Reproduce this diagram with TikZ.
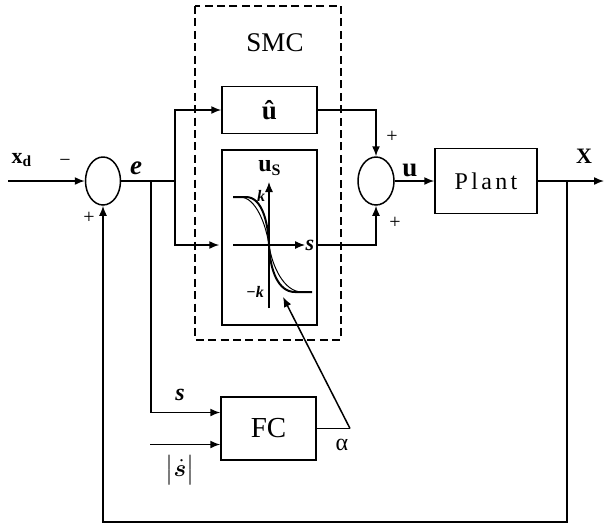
\documentclass[tikz,border=0pt]{standalone}
\usepackage{amsmath,bm}
\usepackage{fontspec}
\setmainfont{Liberation Serif}
\newfontfamily\plantfont[LetterSpace=14]{Liberation Serif}
\usetikzlibrary{arrows.meta,shapes.geometric}

\begin{document}
\begin{tikzpicture}[x=0.5pt, y=-0.5pt, line width=0.75pt,
        every node/.style={font=\fontsize{12}{14}\selectfont, inner sep=0pt},
        block/.style={rectangle, draw, line width=0.75pt},
        sumnode/.style={ellipse, draw, minimum width=17.5pt, minimum height=24pt},
        arrow/.style={-{Latex[length=5pt,width=4pt]}},
        smcframe/.style={draw, line width=1.3pt, dash pattern=on 4pt off 2.2pt},
        sign/.style={font=\fontsize{10}{12}\selectfont},
        sig/.style={font=\fontsize{11}{12}\selectfont\bfseries},
        varlabel/.style={font=\fontsize{13.5}{15}\selectfont\bfseries\itshape}
      ]
      \useasboundingbox (0,0) rectangle (605,526);
      % SMC frame
      \draw[smcframe] (195,6) rectangle (341,340);
      \node[font=\fontsize{13.5}{15}\selectfont] (smc) at (275,43) {SMC};
      % blocks
      \node[sumnode] (sum1) at (103,181) {};
      \node[sumnode, minimum width=18pt] (sum2) at (376,181) {};
      \node[block, minimum width=47.5pt, minimum height=23.5pt] (uhat) at (269.5,110)
      {\fontsize{13.5}{15}\selectfont\bfseries û};
      \node[block, minimum width=47.5pt, minimum height=87.5pt] (usbox) at (269.5,237.5) {};
      \node[block, minimum width=51pt, minimum height=32.5pt] (plant) at (486,181)
      {\fontsize{12}{14}\plantfont Plant};
      \node[block, minimum width=47.5pt, minimum height=31.5pt] (fc) at (268.5,428.5)
      {\fontsize{14.5}{16}\selectfont FC};
      % switching curve inside the us box
      \coordinate (ax0) at (269,245);
      \draw[arrow, line width=0.6pt] (233,245) -- (305,245);
      \draw[arrow, line width=0.6pt] (269,308) -- (269,182);
      \draw[line width=1pt] (233,197) -- (246,197)
      .. controls (262,197) and (268,222) .. (269,245)
      .. controls (270,270) and (278,292) .. (295,292) -- (312,292);
      \draw[line width=0.5pt] (233,197) -- (240,197)
      .. controls (256,197) and (266,225) .. (269,245)
      .. controls (272,266) and (284,292) .. (302,292);
      \node[font=\fontsize{12}{14}\selectfont\bfseries] (uslabel) at (270,168) {u\textsubscript{S}};
      \node[font=\fontsize{8}{9}\selectfont\bfseries\itshape] (kpos) at (261,196) {k};
      \node[font=\fontsize{8}{9}\selectfont\bfseries\itshape] (kneg) at (255,292) {−k};
      \node[font=\fontsize{11}{12}\selectfont\bfseries\itshape] (slabel) at (310,245) {s};
      % points on the lines
      \coordinate (in) at (8,181);
      \coordinate (e1) at (151,181);
      \coordinate (e2) at (175,181);
      \coordinate (out) at (604,181);
      \coordinate (fb) at (567,181);
      \coordinate (fbdown) at (567,522);
      \coordinate (sdotin) at (150,444.5);
      \coordinate (bend) at (350,428.5);
      \coordinate (tip) at (283,297);
      % connectors
      \draw[arrow] (in) -- (sum1.west);
      \draw (sum1.east) -- (e2);
      \draw[arrow] (e2) |- (uhat.west);
      \draw[arrow] (e2) |- ([xshift=-1pt]usbox.west |- ax0);
      \draw[arrow] (uhat.east) -| (sum2.north);
      \draw[arrow] (usbox.east |- ax0) -| (sum2.south);
      \draw[arrow] (sum2.east) -- (plant.west);
      \draw[arrow] (plant.east) -- (out);
      \draw[arrow] (fb) -- (fbdown) -| (sum1.south);
      \draw[arrow] (e1) |- ([yshift=8pt]fc.west);
      \draw[arrow] (sdotin) -- ([yshift=-8pt]fc.west);
      \draw (fc.east) -- (bend);
      \draw[arrow] (bend) -- (tip);
      % signal labels
      \node[sig] (xd) at (22,160) {x\textsubscript{d}};
      \node[sign] (minus) at (65,163) {−};
      \node[sign] (plus1) at (89,218) {+};
      \node[varlabel] (elabel) at (136,168) {e};
      \node[sign] (plus2) at (392,137) {+};
      \node[sign] (plus3) at (395,223) {+};
      \node[font=\fontsize{13.5}{15}\selectfont\bfseries] (ulabel) at (410,170) {u};
      \node[sig] (xlabel) at (584,156) {X};
      \node[font=\fontsize{12}{14}\selectfont\bfseries\itshape] (sfc) at (180,395) {s};
      \node (sdot) at (180,470) {$\bigl|\dot{\bm{s}}\bigr|$};
      \node[font=\fontsize{12}{14}\selectfont] (alpha) at (342,445) {α};
    \end{tikzpicture}
\end{document}
